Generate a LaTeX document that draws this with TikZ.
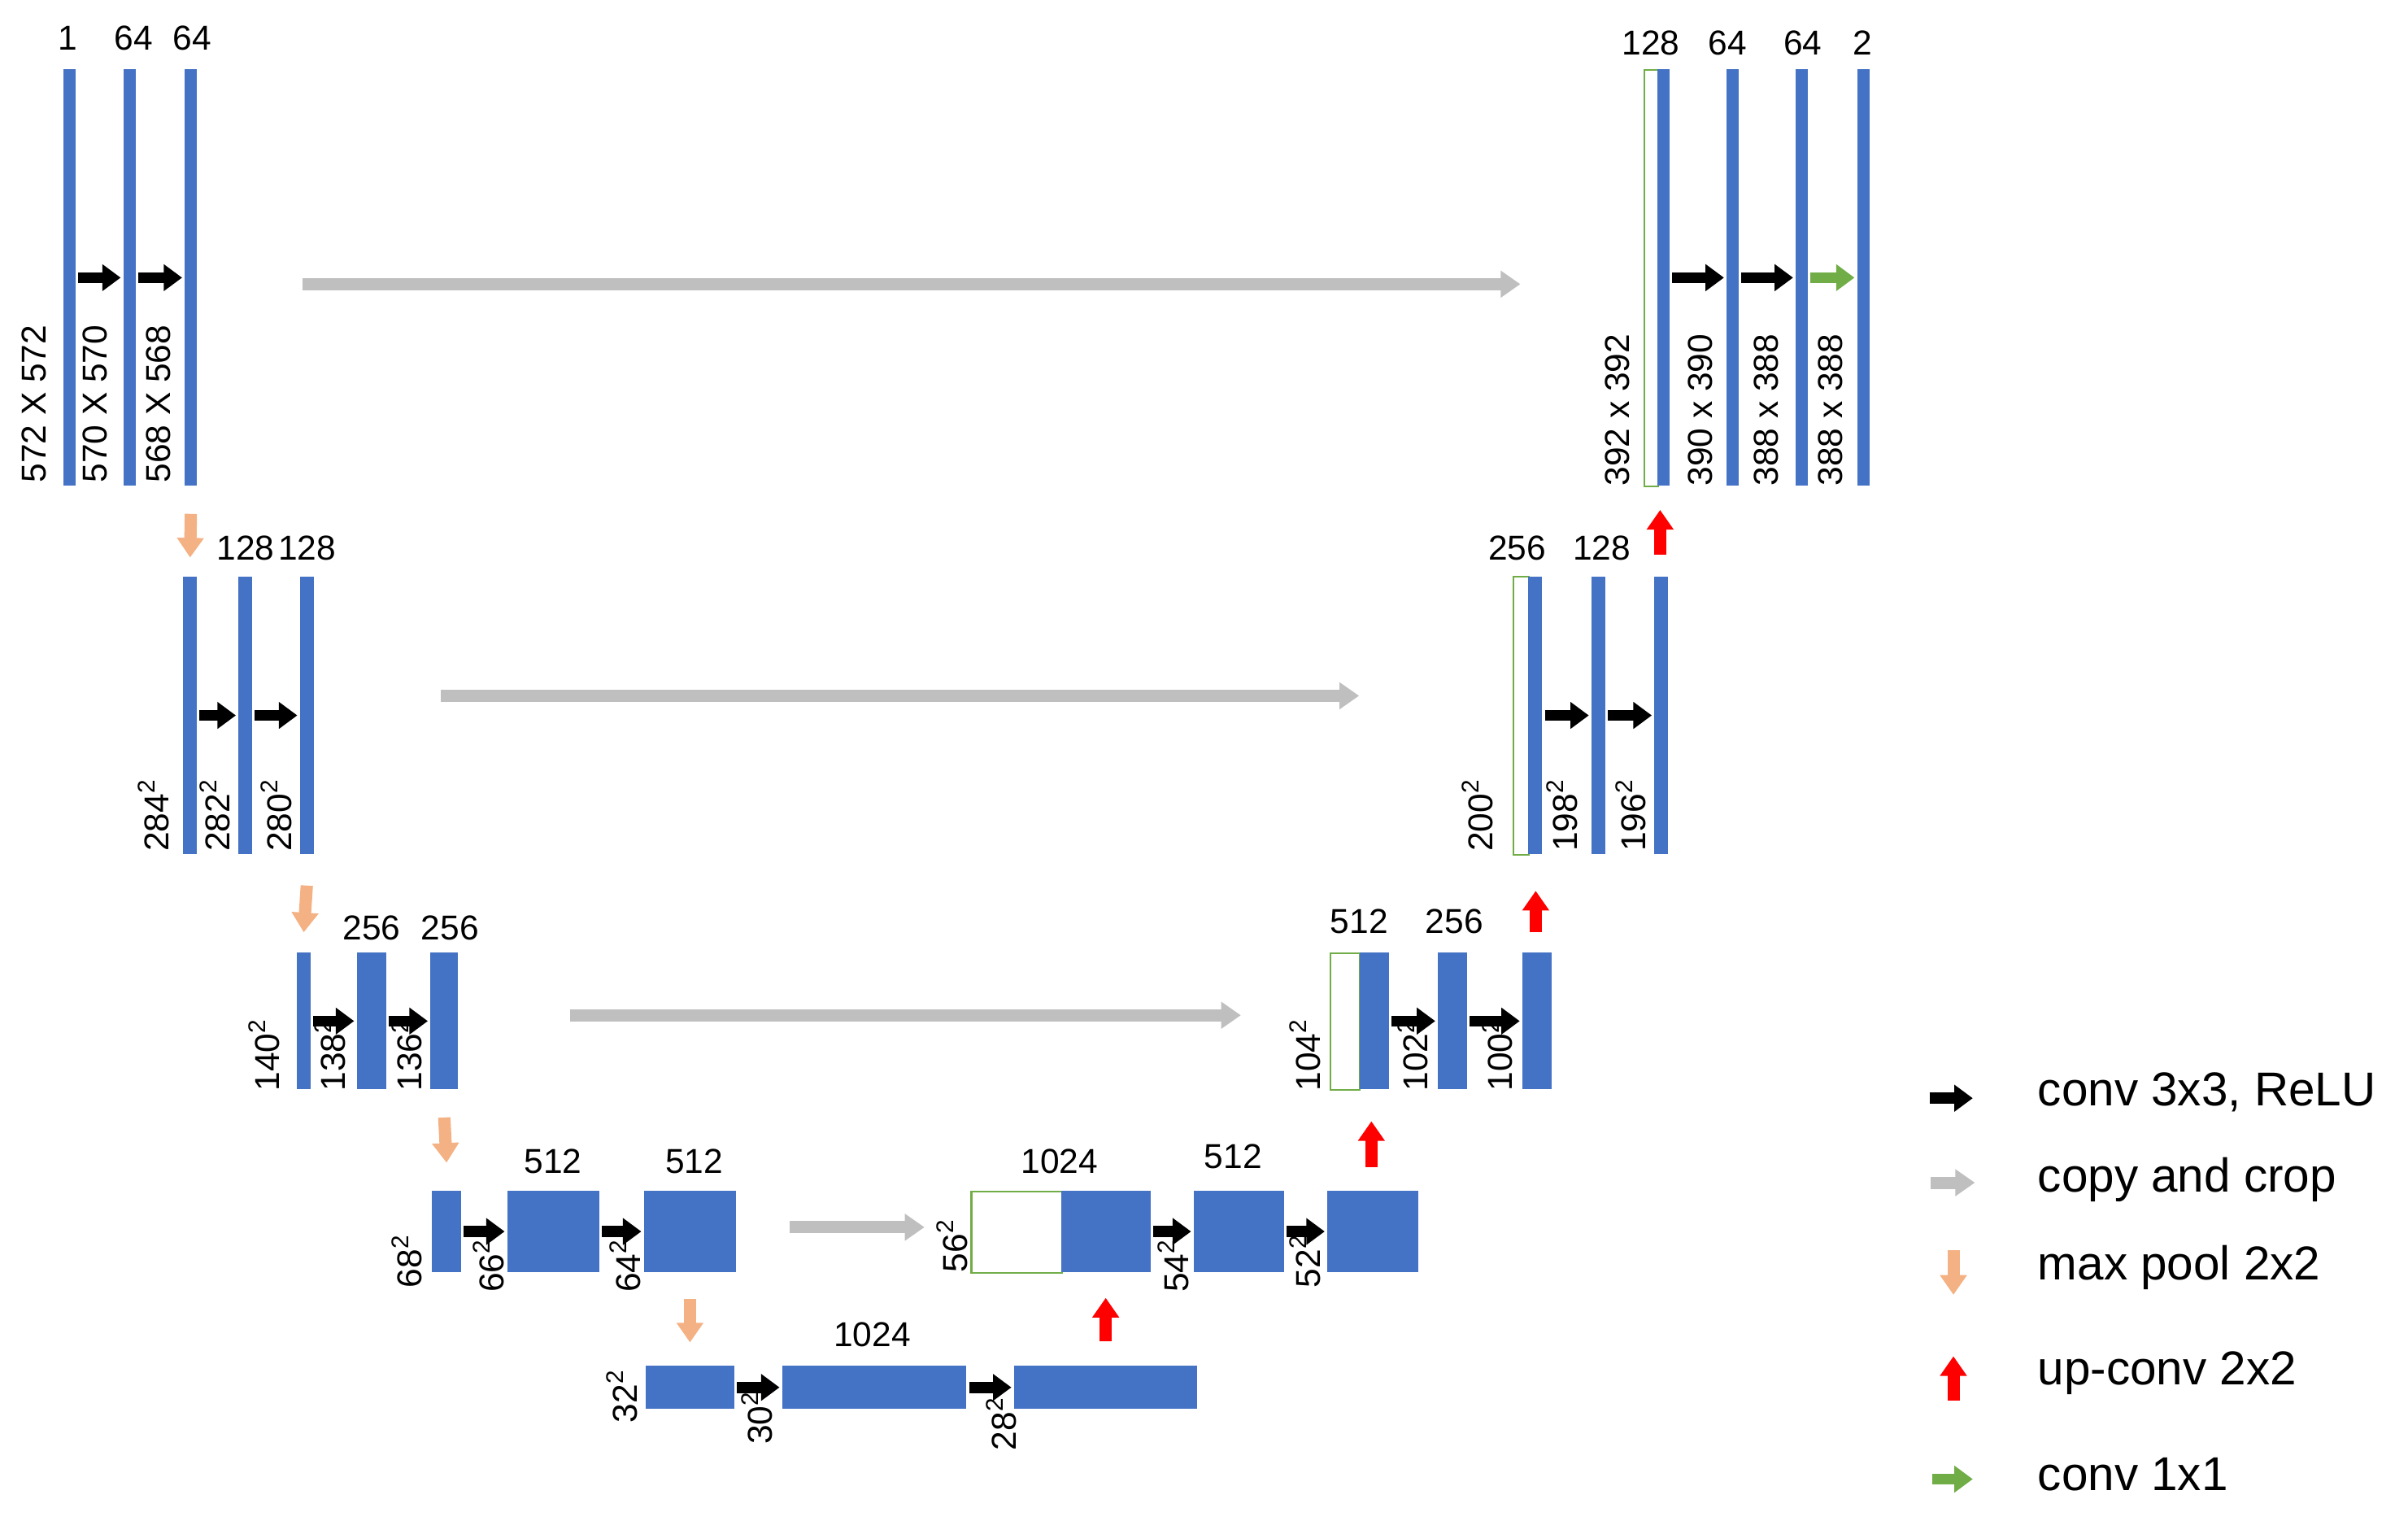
\documentclass[tikz,border=0pt]{standalone}
\usepackage{fontspec}
\setmainfont{Liberation Sans}
\usetikzlibrary{arrows.meta,positioning}
\definecolor{ublue}{HTML}{4472C4}
\definecolor{ugray}{HTML}{BFBFBF}
\definecolor{upool}{HTML}{F4B183}
\definecolor{ugreen}{HTML}{70AD47}
% one layer block: name, left, top, width, height (reference pixels)
\newcommand\layerbox[5]{\node[blk, minimum width=#4*0.025cm, minimum height=#5*0.025cm] (#1) at (#2,#3) {};}
\newcommand\cropbox[5]{\node[crop, minimum width=#4*0.025cm, minimum height=#5*0.025cm] (#1) at (#2,#3) {};}
\begin{document}
\begin{tikzpicture}[x=0.025cm, y=-0.025cm,
    % blocks
    blk/.style={rectangle, fill=ublue, draw=none, anchor=north west, inner sep=0pt},
    crop/.style={rectangle, fill=white, draw=ugreen, line width=0.8pt, anchor=north west, inner sep=0pt},
    % labels
    num/.style={font=\fontsize{16}{18}\selectfont, inner sep=1pt},
    dim/.style={font=\fontsize{16}{18}\selectfont, rotate=90, anchor=west, inner sep=1pt},
    % arrows
    conv/.style={draw=black, line width=0.18cm, -{Triangle[width=0.42cm,length=0.3cm]}, shorten <=1pt, shorten >=1pt},
    copy/.style={draw=ugray, line width=0.2cm, -{Triangle[width=0.42cm,length=0.32cm]}},
    pool/.style={draw=upool, line width=0.2cm, -{Triangle[width=0.42cm,length=0.32cm]}},
    upconv/.style={draw=red, line width=0.2cm, -{Triangle[width=0.42cm,length=0.32cm]}},
    last/.style={draw=ugreen, line width=0.18cm, -{Triangle[width=0.42cm,length=0.3cm]}, shorten <=1pt, shorten >=1pt},
    legend/.style={font=\fontsize{22}{26}\selectfont, anchor=west}
]
\useasboundingbox (0,0) rectangle (1568,990);

% contracting path
\layerbox{a1}{41}{45}{8}{271}
\layerbox{a2}{80}{45}{8}{271}
\layerbox{a3}{120}{45}{8}{271}
\layerbox{b1}{119}{375}{9}{181}
\layerbox{b2}{155}{375}{9}{181}
\layerbox{b3}{195}{375}{9}{181}
\layerbox{c1}{193}{620}{9}{89}
\layerbox{c2}{232}{620}{19}{89}
\layerbox{c3}{280}{620}{18}{89}
\layerbox{d1}{281}{775}{19}{53}
\layerbox{d2}{330}{775}{60}{53}
\layerbox{d3}{419}{775}{60}{53}
\layerbox{e1}{420}{889}{58}{28}
\layerbox{e2}{509}{889}{120}{28}
\layerbox{e3}{660}{889}{119}{28}

% expanding path
\cropbox{f0}{632}{775}{59}{53}
\layerbox{f1}{691}{775}{58}{53}
\layerbox{f2}{777}{775}{59}{53}
\layerbox{f3}{864}{775}{59}{53}
\cropbox{g0}{866}{620}{19}{89}
\layerbox{g1}{885}{620}{19}{89}
\layerbox{g2}{936}{620}{19}{89}
\layerbox{g3}{991}{620}{19}{89}
\cropbox{h0}{985}{375}{10}{181}
\layerbox{h1}{995}{375}{9}{181}
\layerbox{h2}{1036}{375}{9}{181}
\layerbox{h3}{1077}{375}{9}{181}
\cropbox{k0}{1070}{45}{9}{271}
\layerbox{k1}{1079}{45}{8}{271}
\layerbox{k2}{1124}{45}{8}{271}
\layerbox{k3}{1169}{45}{8}{271}
\layerbox{k4}{1209}{45}{8}{271}

% channel numbers
\node[num] at (44,25) {1};
\node[num] at (87,25) {64};
\node[num] at (125,25) {64};
\node[num] at (160,357) {128};
\node[num] at (200,357) {128};
\node[num] at (242,604) {256};
\node[num] at (293,604) {256};
\node[num] at (360,756) {512};
\node[num] at (452,756) {512};
\node[num] at (568,869) {1024};
\node[num] at (690,756) {1024};
\node[num] at (803,753) {512};
\node[num] at (885,600) {512};
\node[num] at (947,600) {256};
\node[num] at (988,357) {256};
\node[num] at (1043,357) {128};
\node[num] at (1075,28) {128};
\node[num] at (1125,28) {64};
\node[num] at (1174,28) {64};
\node[num] at (1213,28) {2};

% sizes
\node[dim] at (22,316) {572 X 572};
\node[dim] at (62,316) {570 X 570};
\node[dim] at (103,316) {568 X 568};
\node[dim] at (100,556) {284\textsuperscript{2}};
\node[dim] at (140,556) {282\textsuperscript{2}};
\node[dim] at (180,556) {280\textsuperscript{2}};
\node[dim] at (172,712) {140\textsuperscript{2}};
\node[dim] at (215,712) {138\textsuperscript{2}};
\node[dim] at (265,712) {136\textsuperscript{2}};
\node[dim] at (265,840) {68\textsuperscript{2}};
\node[dim] at (318,843) {66\textsuperscript{2}};
\node[dim] at (407,843) {64\textsuperscript{2}};
\node[dim] at (405,928) {32\textsuperscript{2}};
\node[dim] at (493,942) {30\textsuperscript{2}};
\node[dim] at (652,946) {28\textsuperscript{2}};
\node[dim] at (620,830) {56\textsuperscript{2}};
\node[dim] at (764,843) {54\textsuperscript{2}};
\node[dim] at (850,840) {52\textsuperscript{2}};
\node[dim] at (850,712) {104\textsuperscript{2}};
\node[dim] at (920,712) {102\textsuperscript{2}};
\node[dim] at (975,712) {100\textsuperscript{2}};
\node[dim] at (962,556) {200\textsuperscript{2}};
\node[dim] at (1017,556) {198\textsuperscript{2}};
\node[dim] at (1062,556) {196\textsuperscript{2}};
\node[dim] at (1053,318) {392 x 392};
\node[dim] at (1107,318) {390 x 390};
\node[dim] at (1150,318) {388 x 388};
\node[dim] at (1192,318) {388 x 388};

% convolutions
\foreach \u/\v in {a1/a2,a2/a3,b1/b2,b2/b3,c1/c2,c2/c3,d1/d2,d2/d3,e1/e2,e2/e3,
                   f1/f2,f2/f3,g1/g2,g2/g3,h1/h2,h2/h3,k1/k2,k2/k3}
  \draw[conv] (\u.east) -- (\v.west);
\draw[last] (k3.east) -- (k4.west);

% copy and crop
\coordinate (s1) at (197,185);  \coordinate (t1) at (990,185);
\coordinate (s2) at (287,453);  \coordinate (t2) at (885,453);
\coordinate (s3) at (371,661);  \coordinate (t3) at (808,661);
\coordinate (s4) at (514,799);  \coordinate (t4) at (602,799);
\foreach \i in {1,...,4}
  \draw[copy] (s\i) -- (t\i);

% max pool
\draw[pool] ([yshift=-18*0.025cm]a3.south) -- ([yshift=12*0.025cm]b1.north);
\draw[pool] ([yshift=-20*0.025cm]b3.south) -- ([yshift=13*0.025cm]c1.north);
\draw[pool] ([yshift=-18*0.025cm]c3.south) -- ([yshift=18*0.025cm]d1.north);
\draw[pool] ([yshift=-17*0.025cm]d3.south) -- ([yshift=15*0.025cm]e1.north);

% up-conv
\coordinate (u1) at (720,873); \coordinate (v1) at (720,845);
\coordinate (u2) at (893,760); \coordinate (v2) at (893,730);
\coordinate (u3) at (1000,607); \coordinate (v3) at (1000,580);
\coordinate (u4) at (1081,361); \coordinate (v4) at (1081,332);
\foreach \i in {1,...,4}
  \draw[upconv] (u\i) -- (v\i);

% legend
\coordinate (l1) at (1255,715); \coordinate (m1) at (1286,715);
\coordinate (l2) at (1257,770); \coordinate (m2) at (1286,770);
\coordinate (l3) at (1272,814); \coordinate (m3) at (1272,843);
\coordinate (l4) at (1272,912); \coordinate (m4) at (1272,883);
\coordinate (l5) at (1257,963); \coordinate (m5) at (1286,963);
\draw[conv] (l1) -- (m1);
\draw[copy] (l2) -- (m2);
\draw[pool] (l3) -- (m3);
\draw[upconv] (l4) -- (m4);
\draw[last] (l5) -- (m5);
\node[legend] at (1322,711) {conv 3x3, ReLU};
\node[legend] at (1322,768) {copy and crop};
\node[legend] at (1322,825) {max pool 2x2};
\node[legend] at (1322,894) {up-conv 2x2};
\node[legend] at (1322,960) {conv 1x1};
\end{tikzpicture}
\end{document}
